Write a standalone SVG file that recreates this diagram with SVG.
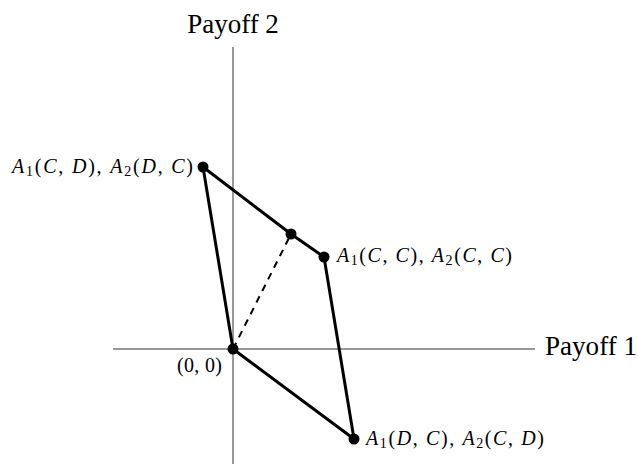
<svg xmlns="http://www.w3.org/2000/svg" width="638" height="464" viewBox="0 0 638 464">
<style>
.ax{stroke:#333;stroke-width:1;fill:none}
.edge{stroke:#000;stroke-width:3;fill:none;stroke-linecap:round;stroke-linejoin:round}
.dash{stroke:#000;stroke-width:2;fill:none;stroke-dasharray:7,6}
.pt{fill:#000}
.t{font-family:"Liberation Serif",serif;font-size:27px;fill:#000}
.lbl{font-family:"Liberation Serif",serif;font-size:20px;fill:#000}
.i{font-style:italic}
.s{font-size:14px}
</style>
<rect width="638" height="464" fill="#fff"/>
<g id="axes">
<line class="ax" x1="233" y1="47" x2="233" y2="464"/>
<line class="ax" x1="113" y1="349" x2="535" y2="349"/>
<text class="t" x="233" y="33" text-anchor="middle">Payoff 2</text>
<text class="t" x="545" y="355" textLength="92" lengthAdjust="spacingAndGlyphs">Payoff 1</text>
</g>
<g id="connectors">
<polyline class="edge" points="233,349 203,167 291,234 324,257 354,439 233,349"/>
<line class="dash" x1="233" y1="349" x2="291" y2="234"/>
</g>
<g id="n_origin">
<circle class="pt" cx="233" cy="349" r="5.5"/>
<text class="lbl" x="177" y="372" textLength="45">(0, 0)</text>
</g>
<g id="n_cd">
<circle class="pt" cx="203" cy="167" r="5.5"/>
<text class="lbl" x="12" y="173" textLength="181"><tspan class="i">A</tspan><tspan class="s" dy="3">1</tspan><tspan dy="-3">(</tspan><tspan class="i">C</tspan>, <tspan class="i">D</tspan>), <tspan class="i">A</tspan><tspan class="s" dy="3">2</tspan><tspan dy="-3">(</tspan><tspan class="i">D</tspan>, <tspan class="i">C</tspan>)</text>
</g>
<g id="n_mid">
<circle class="pt" cx="291" cy="234" r="5.5"/>
</g>
<g id="n_cc">
<circle class="pt" cx="324" cy="257" r="5.5"/>
<text class="lbl" x="337" y="262" textLength="175"><tspan class="i">A</tspan><tspan class="s" dy="3">1</tspan><tspan dy="-3">(</tspan><tspan class="i">C</tspan>, <tspan class="i">C</tspan>), <tspan class="i">A</tspan><tspan class="s" dy="3">2</tspan><tspan dy="-3">(</tspan><tspan class="i">C</tspan>, <tspan class="i">C</tspan>)</text>
</g>
<g id="n_dc">
<circle class="pt" cx="354" cy="439" r="5.5"/>
<text class="lbl" x="366" y="445" textLength="178"><tspan class="i">A</tspan><tspan class="s" dy="3">1</tspan><tspan dy="-3">(</tspan><tspan class="i">D</tspan>, <tspan class="i">C</tspan>), <tspan class="i">A</tspan><tspan class="s" dy="3">2</tspan><tspan dy="-3">(</tspan><tspan class="i">C</tspan>, <tspan class="i">D</tspan>)</text>
</g>
</svg>
